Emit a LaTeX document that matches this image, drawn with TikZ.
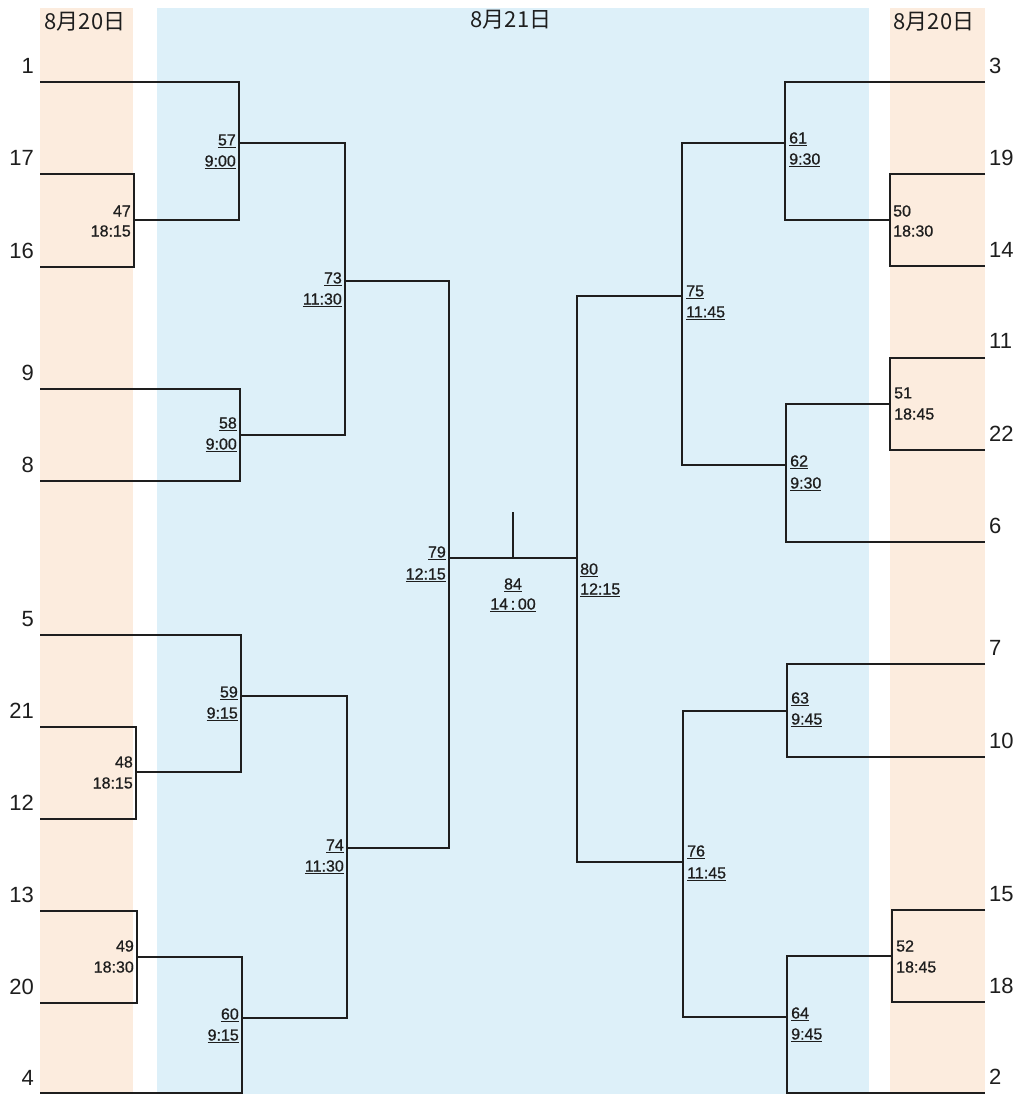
\documentclass[tikz,border=0pt]{standalone}
\usepackage{fontspec}
\setmainfont{Liberation Sans}
\newfontfamily\cjk{Noto Sans CJK JP}
\newfontfamily\mlabfont[FakeBold=0.8]{Liberation Sans}
\definecolor{peach}{RGB}{252,236,222}
\definecolor{skyb}{RGB}{221,240,249}
\definecolor{ink}{RGB}{30,30,30}
\newcommand{\ulx}[1]{\underline{#1}}
\begin{document}
\begin{tikzpicture}[x=1pt,y=-1pt,
  bline/.style={draw=ink,line width=1.6pt,line join=miter},
  team/.style={font=\fontsize{22}{24}\selectfont,text=ink,inner sep=0pt},
  teamL/.style={team,anchor=east},
  teamR/.style={team,anchor=west},
  mlab/.style={font=\mlabfont\fontsize{16}{18}\selectfont,text=ink,inner sep=0pt},
  mlabL/.style={mlab,anchor=east},
  mlabR/.style={mlab,anchor=west},
  datelab/.style={font=\cjk\fontsize{22}{24}\selectfont,text=ink,inner sep=0pt}]
\useasboundingbox (0,0) rectangle (1023,1094);
\fill[white] (0,0) rectangle (1023,1094);
% background bands
\fill[peach] (40,8) rectangle (133,1094);
\fill[skyb] (157,8) rectangle (869,1094);
\fill[peach] (890,8) rectangle (985,1094);
% dates
\node[datelab] (d1) at (85,22) {8月20日};
\node[datelab] (d2) at (511,20) {8月21日};
\node[datelab] (d3) at (934,22) {8月20日};
% coordinates left
\coordinate (t1) at (40,82);
\coordinate (t17) at (40,174);
\coordinate (t16) at (40,267);
\coordinate (m47) at (134,220);
\coordinate (m57) at (239,143);
\coordinate (t9) at (40,389);
\coordinate (t8) at (40,481);
\coordinate (m58) at (240,435);
\coordinate (m73) at (345,281);
\coordinate (t5) at (40,635);
\coordinate (t21) at (40,727);
\coordinate (t12) at (40,819);
\coordinate (m48) at (136,772);
\coordinate (m59) at (241,696);
\coordinate (t13) at (40,911);
\coordinate (t20) at (40,1003);
\coordinate (m49) at (137,957);
\coordinate (t4) at (40,1093);
\coordinate (m60) at (242,1018);
\coordinate (m74) at (347,848);
\coordinate (m79) at (449,558);
\coordinate (m84) at (513,558);
\coordinate (top84) at (513,512);
\coordinate (m80) at (577,558);
% coordinates right
\coordinate (t3) at (985,82);
\coordinate (t19) at (985,174);
\coordinate (t14) at (985,266);
\coordinate (m50) at (890,220);
\coordinate (m61) at (785,143);
\coordinate (t11) at (985,358);
\coordinate (t22) at (985,450);
\coordinate (m51) at (890,404);
\coordinate (t6) at (985,542);
\coordinate (m62) at (786,465);
\coordinate (m75) at (682,296);
\coordinate (t7) at (985,664);
\coordinate (t10) at (985,757);
\coordinate (m63) at (787,711);
\coordinate (t15) at (985,910);
\coordinate (t18) at (985,1002);
\coordinate (m52) at (892,956);
\coordinate (t2) at (985,1093);
\coordinate (m64) at (787,1017);
\coordinate (m76) at (683,862);
% brackets left
\draw[bline] (t17) -| (m47) |- (t16);
\draw[bline] (t1) -| (m57) |- (m47);
\draw[bline] (t9) -| (m58) |- (t8);
\draw[bline] (m57) -| (m73) |- (m58);
\draw[bline] (t21) -| (m48) |- (t12);
\draw[bline] (t5) -| (m59) |- (m48);
\draw[bline] (t13) -| (m49) |- (t20);
\draw[bline] (m49) -| (m60) |- (t4);
\draw[bline] (m59) -| (m74) |- (m60);
\draw[bline] (m73) -| (m79) |- (m74);
% brackets right
\draw[bline] (t19) -| (m50) |- (t14);
\draw[bline] (t3) -| (m61) |- (m50);
\draw[bline] (t11) -| (m51) |- (t22);
\draw[bline] (m51) -| (m62) |- (t6);
\draw[bline] (m61) -| (m75) |- (m62);
\draw[bline] (t7) -| (m63) |- (t10);
\draw[bline] (t15) -| (m52) |- (t18);
\draw[bline] (m52) -| (m64) |- (t2);
\draw[bline] (m63) -| (m76) |- (m64);
\draw[bline] (m75) -| (m80) |- (m76);
% final
\draw[bline] (m79) -- (m80);
\draw[bline] (m84) -- (top84);
% team labels left
\node[teamL] (n1) at (34,66) {1};
\node[teamL] (n17) at (34,158) {17};
\node[teamL] (n16) at (34,251) {16};
\node[teamL] (n9) at (34,373) {9};
\node[teamL] (n8) at (34,465) {8};
\node[teamL] (n5) at (34,619) {5};
\node[teamL] (n21) at (34,711) {21};
\node[teamL] (n12) at (34,803) {12};
\node[teamL] (n13) at (34,895) {13};
\node[teamL] (n20) at (34,987) {20};
\node[teamL] (n4) at (34,1078) {4};
% team labels right
\node[teamR] (n3) at (989,66) {3};
\node[teamR] (n19) at (989,158) {19};
\node[teamR] (n14) at (989,250) {14};
\node[teamR] (n11) at (989,341) {11};
\node[teamR] (n22) at (989,434) {22};
\node[teamR] (n6) at (989,526) {6};
\node[teamR] (n7) at (989,648) {7};
\node[teamR] (n10) at (989,741) {10};
\node[teamR] (n15) at (989,894) {15};
\node[teamR] (n18) at (989,986) {18};
\node[teamR] (n2) at (989,1077) {2};
% match labels left, day 1
\node[mlabL] (a47) at (131,211) {47};
\node[mlabL] (b47) at (131,231) {18:15};
\node[mlabL] (a48) at (133,762) {48};
\node[mlabL] (b48) at (133,783) {18:15};
\node[mlabL] (a49) at (134,946) {49};
\node[mlabL] (b49) at (134,967) {18:30};
% match labels left, day 2
\node[mlabL] (a57) at (236,141) {\ulx{57}};
\node[mlabL] (b57) at (236,162) {\ulx{9:00}};
\node[mlabL] (a58) at (237,424) {\ulx{58}};
\node[mlabL] (b58) at (237,445) {\ulx{9:00}};
\node[mlabL] (a59) at (238,693) {\ulx{59}};
\node[mlabL] (b59) at (238,714) {\ulx{9:15}};
\node[mlabL] (a60) at (239,1015) {\ulx{60}};
\node[mlabL] (b60) at (239,1036) {\ulx{9:15}};
\node[mlabL] (a73) at (342,279) {\ulx{73}};
\node[mlabL] (b73) at (342,300) {\ulx{11:30}};
\node[mlabL] (a74) at (344,846) {\ulx{74}};
\node[mlabL] (b74) at (344,867) {\ulx{11:30}};
\node[mlabL] (a79) at (446,553) {\ulx{79}};
\node[mlabL] (b79) at (446,575) {\ulx{12:15}};
% final
\node[mlab,anchor=center] (a84) at (513,585) {\ulx{84}};
\node[mlab,anchor=center] (b84) at (513,605) {\ulx{14\,:\,00}};
% match labels right
\node[mlabR] (a80) at (580,570) {\ulx{80}};
\node[mlabR] (b80) at (580,590) {\ulx{12:15}};
\node[mlabR] (a75) at (686,292) {\ulx{75}};
\node[mlabR] (b75) at (686,313) {\ulx{11:45}};
\node[mlabR] (a76) at (687,852) {\ulx{76}};
\node[mlabR] (b76) at (687,874) {\ulx{11:45}};
\node[mlabR] (a61) at (789,139) {\ulx{61}};
\node[mlabR] (b61) at (789,160) {\ulx{9:30}};
\node[mlabR] (a62) at (790,462) {\ulx{62}};
\node[mlabR] (b62) at (790,484) {\ulx{9:30}};
\node[mlabR] (a63) at (791,699) {\ulx{63}};
\node[mlabR] (b63) at (791,720) {\ulx{9:45}};
\node[mlabR] (a64) at (791,1014) {\ulx{64}};
\node[mlabR] (b64) at (791,1035) {\ulx{9:45}};
\node[mlabR] (a50) at (893,211) {50};
\node[mlabR] (b50) at (893,231) {18:30};
\node[mlabR] (a51) at (894,393) {51};
\node[mlabR] (b51) at (894,414) {18:45};
\node[mlabR] (a52) at (896,946) {52};
\node[mlabR] (b52) at (896,967) {18:45};
\end{tikzpicture}
\end{document}
